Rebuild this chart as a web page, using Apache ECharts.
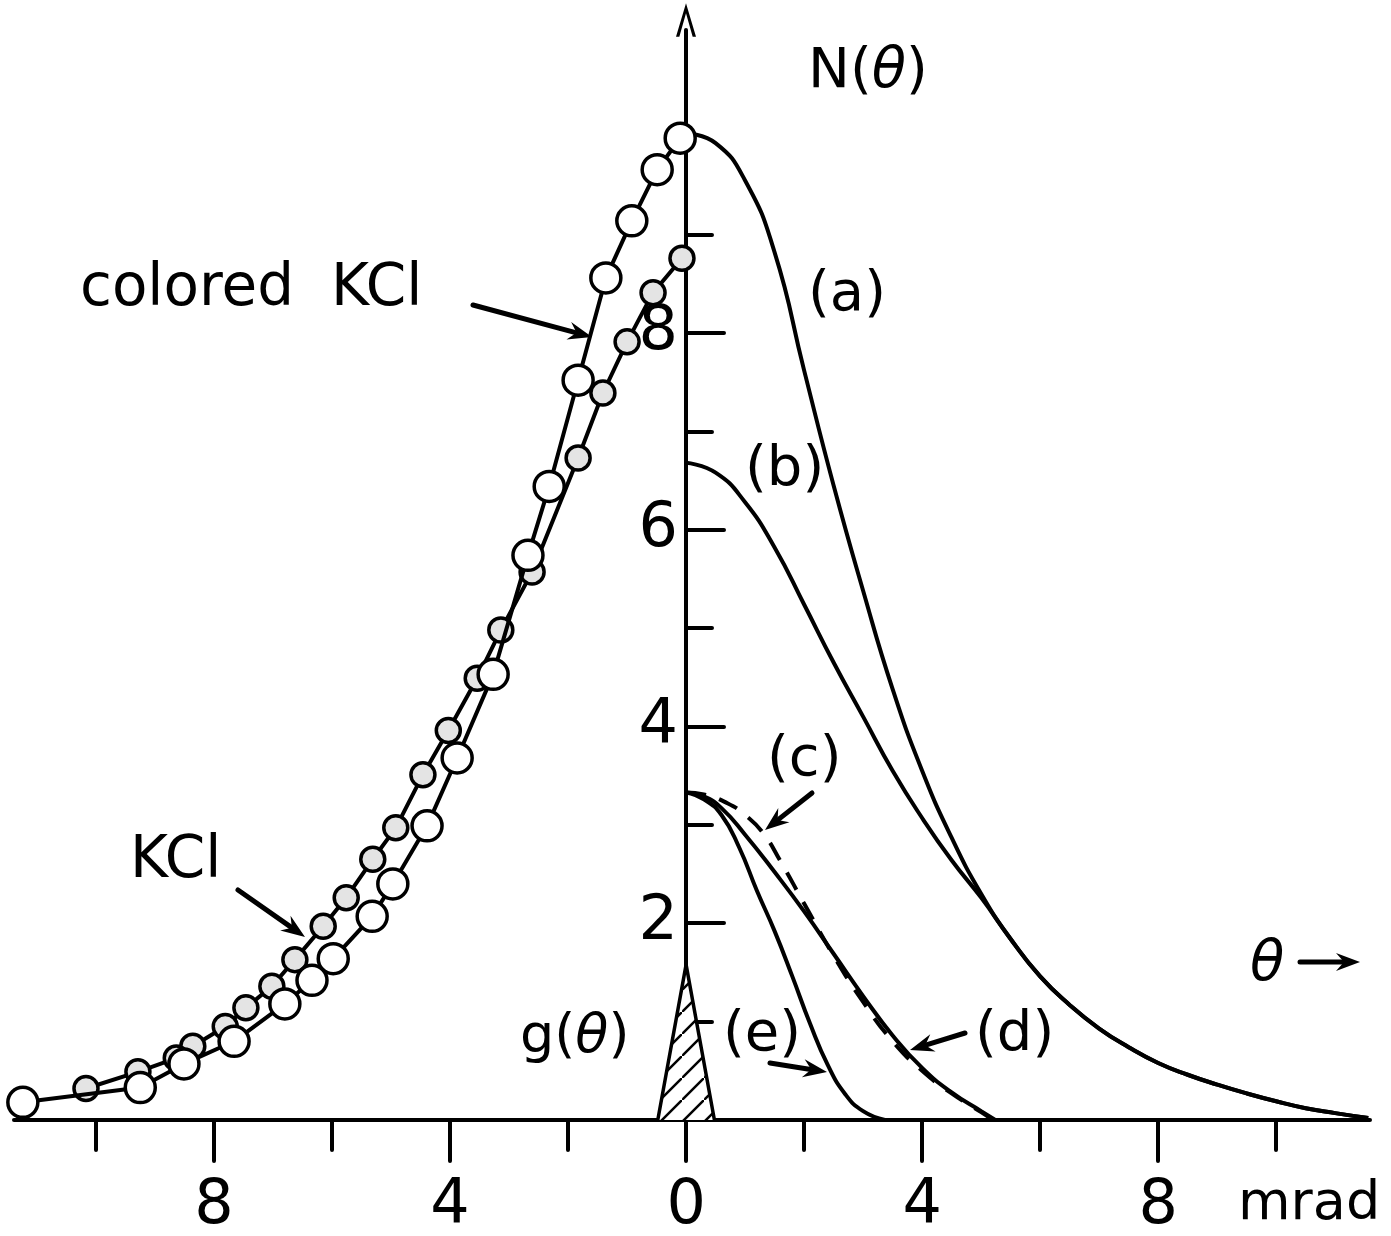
<!DOCTYPE html>
<html>
<head>
<meta charset="utf-8">
<title>N(θ) KCl</title>
<script src="https://cdn.jsdelivr.net/npm/echarts@6/dist/echarts.min.js"></script>
<style>
  html, body { margin: 0; padding: 0; background: #fff; }
  #chart { width: 1391px; height: 1236px; }
</style>
</head>
<body>
<div id="chart"></div>
<script>
// measured points, theta in mrad (left side negative), N in arbitrary units
var coloredKCl = [
  [-0.10, 9.98], [-0.49, 9.66], [-0.92, 9.14], [-1.36, 8.56], [-1.83, 7.52],
  [-2.32, 6.44], [-2.68, 5.74], [-3.27, 4.53], [-3.88, 3.68], [-4.39, 2.99],
  [-4.97, 2.40], [-5.32, 2.07], [-5.98, 1.64], [-6.34, 1.42], [-6.80, 1.18],
  [-7.66, 0.80], [-8.51, 0.57], [-9.25, 0.33], [-11.24, 0.18]
]
var plainKCl = [
  [-0.07, 8.76], [-0.56, 8.41], [-1.00, 7.91], [-1.41, 7.39], [-1.83, 6.73],
  [-2.61, 5.57], [-3.14, 4.98], [-3.54, 4.49], [-4.03, 3.96], [-4.46, 3.51],
  [-4.92, 2.97], [-5.31, 2.65], [-5.76, 2.26], [-6.15, 1.97], [-6.63, 1.63],
  [-7.02, 1.36], [-7.46, 1.14], [-7.81, 0.95], [-8.36, 0.75], [-8.64, 0.63],
  [-9.29, 0.49], [-10.17, 0.32]
]
var curveA = [
  [0, 10.03], [0.5, 9.93], [1.0, 9.55], [1.5, 8.82], [2.0, 7.62], [2.5, 6.45],
  [3.0, 5.38], [3.5, 4.38], [4.0, 3.55], [4.5, 2.87], [5.0, 2.30], [5.5, 1.84],
  [6.0, 1.46], [6.5, 1.17], [7.0, 0.93], [7.5, 0.74], [8.0, 0.58], [8.5, 0.46],
  [9.0, 0.36], [9.5, 0.27], [10.0, 0.19], [10.5, 0.12], [11.0, 0.07], [11.56, 0.02]
]
var curveB = [
  [0, 6.68], [0.5, 6.58], [1.0, 6.28], [1.5, 5.82], [2.0, 5.24], [2.5, 4.65],
  [3.0, 4.10], [3.5, 3.55], [4.0, 3.07], [4.5, 2.64], [5.0, 2.26], [5.5, 1.84],
  [6.0, 1.46], [6.5, 1.17], [7.0, 0.93], [7.5, 0.74], [8.0, 0.58], [8.5, 0.46],
  [9.0, 0.36], [9.5, 0.27], [10.0, 0.19], [10.5, 0.12], [11.0, 0.07], [11.56, 0.02]
]
var curveC = [
  [0, 3.33], [0.3, 3.31], [0.7, 3.22], [1.0, 3.10], [1.3, 2.92], [1.6, 2.63],
  [2.0, 2.20], [2.5, 1.67], [3.0, 1.20], [3.5, 0.80], [4.0, 0.50], [4.5, 0.27],
  [5.0, 0.08], [5.2, 0.0]
]
var curveD = [
  [0, 3.33], [0.3, 3.29], [0.6, 3.17], [1.0, 2.90], [1.5, 2.52], [2.0, 2.12],
  [2.5, 1.69], [3.0, 1.26], [3.5, 0.86], [4.0, 0.53], [4.5, 0.28], [5.0, 0.09],
  [5.24, 0.0]
]
var curveE = [
  [0, 3.33], [0.3, 3.26], [0.6, 3.10], [0.9, 2.77], [1.2, 2.33], [1.5, 1.92],
  [1.8, 1.46], [2.1, 0.98], [2.4, 0.56], [2.7, 0.26], [3.0, 0.09], [3.37, 0.0]
]
var gTheta = [[-0.48, 0], [0, 1.58], [0.48, 0]]

var xTicks = [-10, -8, -6, -4, -2, 0, 2, 4, 6, 8, 10]
var xMajorTicks = [-8, -4, 0, 4, 8]
var yTicks = [1, 2, 3, 4, 5, 6, 7, 8, 9]
var yMajorTicks = [2, 4, 6, 8]

var FONT = 'DejaVu Sans'
var X_MIN = -11.39, X_MAX = 11.59
var GRID_LEFT = 14
var ZERO_X = 686   // where theta = 0 sits

// hatch for g(theta)
function hatchPattern () {
  var c = document.createElement('canvas')
  c.width = 22; c.height = 22
  var ctx = c.getContext('2d')
  ctx.fillStyle = '#fff'
  ctx.fillRect(0, 0, 22, 22)
  ctx.strokeStyle = '#000'
  ctx.lineWidth = 2.5
  ctx.beginPath()
  ctx.moveTo(-2, 24); ctx.lineTo(24, -2)
  ctx.stroke()
  return { image: c, repeat: 'repeat' }
}

// speckled fill for KCl dots
function stipplePattern () {
  var c = document.createElement('canvas')
  c.width = 9; c.height = 9
  var ctx = c.getContext('2d')
  ctx.fillStyle = '#e4e4e4'
  ctx.fillRect(0, 0, 9, 9)
  ctx.fillStyle = '#222'
  ctx.fillRect(1, 2, 2, 2)
  ctx.fillRect(6, 6, 2, 2)
  ctx.fillStyle = '#777'
  ctx.fillRect(5, 1, 2, 1)
  ctx.fillRect(2, 7, 1, 1)
  return { image: c, repeat: 'repeat' }
}

function arrow (x1, y1, x2, y2) {
  var a = Math.atan2(y2 - y1, x2 - x1)
  var L = 24, W = 9
  var bx = x2 - L * Math.cos(a), by = y2 - L * Math.sin(a)
  var nx = -Math.sin(a), ny = Math.cos(a)
  return {
    type: 'group',
    children: [
      { type: 'line', shape: { x1: x1, y1: y1, x2: bx + 6 * Math.cos(a), y2: by + 6 * Math.sin(a) },
        style: { stroke: '#000', lineWidth: 5, lineCap: 'round' } },
      { type: 'polygon',
        shape: { points: [[x2, y2], [bx + W * nx, by + W * ny], [bx + 8 * Math.cos(a), by + 8 * Math.sin(a)], [bx - W * nx, by - W * ny]] },
        style: { fill: '#000' } }
    ]
  }
}

function label (x, y, text, size) {
  return {
    type: 'text', x: x, y: y,
    style: { text: text, font: (size || 56) + 'px "' + FONT + '"', fill: '#000', align: 'left', verticalAlign: 'middle' }
  }
}

var chart = echarts.init(document.getElementById('chart'))

var lineBase = { type: 'line', smooth: 0.5, symbol: 'none', lineStyle: { color: '#000', width: 4 }, z: 3 }
var tickStyle = { color: '#000', width: 4, cap: 'round' }

chart.setOption({
  backgroundColor: '#fff',
  animation: false,
  grid: { left: GRID_LEFT, right: 21, top: 30, bottom: 116, containLabel: false, outerBoundsMode: 'none' },
  xAxis: [
    {
      type: 'value', min: X_MIN, max: X_MAX,
      axisLine: { onZero: false, lineStyle: { color: '#000', width: 4 } },
      axisTick: { customValues: xTicks, length: 30, lineStyle: tickStyle },
      axisLabel: {
        customValues: xMajorTicks, margin: 56, color: '#000', fontFamily: FONT, fontSize: 62,
        formatter: function (v) { return String(Math.abs(v)) }
      },
      splitLine: { show: false }
    },
    {
      type: 'value', min: X_MIN, max: X_MAX, position: 'bottom',
      axisLine: { show: false, onZero: false },
      axisTick: { customValues: xMajorTicks, length: 41, lineStyle: tickStyle },
      axisLabel: { show: false },
      splitLine: { show: false }
    }
  ],
  yAxis: [
    {
      type: 'value', min: 0, max: 11.08, position: 'left', offset: GRID_LEFT - ZERO_X,
      axisLine: {
        onZero: false,
        symbol: ['none', 'path://M0,30 L9,0 L18,30 L15,30 L9,9 L3,30 Z'],
        symbolSize: [20, 34], symbolOffset: [0, 10],
        lineStyle: { color: '#000', width: 4 }
      },
      axisTick: { inside: true, customValues: yTicks, length: 26, lineStyle: tickStyle },
      axisLabel: { customValues: yMajorTicks, margin: 8, color: '#000', fontFamily: FONT, fontSize: 62 },
      splitLine: { show: false }
    },
    {
      type: 'value', min: 0, max: 11.08, position: 'left', offset: GRID_LEFT - ZERO_X,
      axisLine: { show: false, onZero: false },
      axisTick: { inside: true, customValues: yMajorTicks, length: 38, lineStyle: tickStyle },
      axisLabel: { show: false },
      splitLine: { show: false }
    }
  ],
  series: [
    Object.assign({}, lineBase, { name: '(a)', data: curveA }),
    Object.assign({}, lineBase, { name: '(b)', data: curveB }),
    Object.assign({}, lineBase, { name: '(d)', data: curveD }),
    Object.assign({}, lineBase, { name: '(c)', data: curveC, lineStyle: { color: '#000', width: 4, type: [20, 14] } }),
    Object.assign({}, lineBase, { name: '(e)', data: curveE }),
    {
      name: 'g(θ)', type: 'line', data: gTheta, symbol: 'none', z: 2,
      lineStyle: { color: '#000', width: 3.5 },
      areaStyle: { color: hatchPattern(), opacity: 1 }
    },
    {
      name: 'KCl', type: 'line', data: plainKCl, z: 4,
      symbol: 'circle', symbolSize: 24, showAllSymbol: true,
      lineStyle: { color: '#000', width: 4 },
      itemStyle: { color: stipplePattern(), borderColor: '#000', borderWidth: 3.5 }
    },
    {
      name: 'colored KCl', type: 'line', data: coloredKCl, z: 5,
      symbol: 'circle', symbolSize: 30, showAllSymbol: true,
      lineStyle: { color: '#000', width: 4 },
      itemStyle: { color: '#fff', borderColor: '#000', borderWidth: 3.5 }
    }
  ],
  graphic: [
    {
      type: 'text', x: 808, y: 72,
      style: {
        text: '{n|N(}{t|θ}{n|)}', fill: '#000', verticalAlign: 'middle',
        rich: {
          n: { fontFamily: FONT, fontSize: 56, fill: '#000' },
          t: { fontFamily: FONT, fontSize: 56, fontStyle: 'italic', fill: '#000' }
        }
      }
    },
    label(808, 295, '(a)'),
    label(745, 470, '(b)'),
    label(767, 760, '(c)'),
    label(975, 1035, '(d)'),
    label(723, 1035, '(e)'),
    label(80, 290, 'colored  KCl', 58),
    label(130, 862, 'KCl', 58),
    {
      type: 'text', x: 520, y: 1038,
      style: {
        text: '{n|g(}{t|θ}{n|)}', fill: '#000', verticalAlign: 'middle',
        rich: {
          n: { fontFamily: FONT, fontSize: 54, fill: '#000' },
          t: { fontFamily: FONT, fontSize: 54, fontStyle: 'italic', fill: '#000' }
        }
      }
    },
    {
      type: 'text', x: 1250, y: 965,
      style: { text: 'θ', font: 'italic 56px "' + FONT + '"', fill: '#000', verticalAlign: 'middle' }
    },
    label(1238, 1205, 'mrad', 54),
    arrow(473, 305, 592, 337),
    arrow(238, 890, 305, 937),
    arrow(812, 793, 765, 830),
    arrow(965, 1033, 910, 1050),
    arrow(770, 1063, 827, 1072),
    arrow(1300, 962, 1360, 962)
  ]
})
</script>
</body>
</html>
